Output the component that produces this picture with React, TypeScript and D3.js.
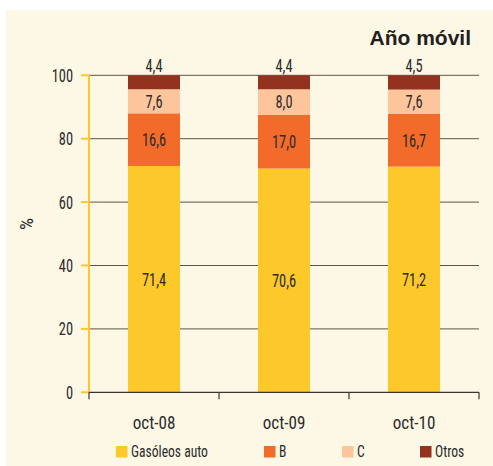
import React from "react";
import * as d3 from "d3";

// datos
const categories = ["oct-08", "oct-09", "oct-10"];
const gasoleos = [71.4, 70.6, 71.2];
const serieB = [16.6, 17.0, 16.7];
const serieC = [7.6, 8.0, 7.6];
const otros = [4.4, 4.4, 4.5];
const seriesNames = ["Gasóleos auto", "B", "C", "Otros"];
const yTicks = [0, 20, 40, 60, 80, 100];

const colors = ["#FDC82A", "#F26B2B", "#FCC59B", "#93321E"];
const font = "'Liberation Sans Narrow', 'Roboto Condensed', 'DejaVu Sans Condensed', sans-serif";
const textColor = "#2b2b2b";

const W = 493;
const H = 466;
const left = 89;
const right = 479;
const top = 75.3;
const bottom = 392.3;

function App() {
  const rows = categories.map((cat, i) => ({
    cat,
    g: gasoleos[i],
    b: serieB[i],
    c: serieC[i],
    o: otros[i],
  }));
  const keys = ["g", "b", "c", "o"];
  const stacked = d3.stack<any>().keys(keys)(rows);

  const x = d3
    .scaleBand()
    .domain(categories)
    .range([left, right])
    .paddingInner(0.6)
    .paddingOuter(0.3);
  const y = d3.scaleLinear().domain([0, 100]).range([bottom, top]);
  const bw = x.bandwidth();
  const step = x.step();
  const fmt = (v: number) => v.toFixed(1).replace(".", ",");

  // separaciones del eje x entre categorías
  const xTickPos = d3.range(categories.length + 1).map((i) => left + i * step);

  const legendX = [116, 264, 342, 420];

  return (
    <svg
      width={W}
      height={H}
      style={{ position: "absolute", left: 0, top: 0, fontFamily: font }}
    >
      <rect x={0} y={0} width={W} height={H} fill="#fff" />
      <rect x={6} y={10} width={W - 6} height={H - 10} fill="#FDF7E6" />

      <text
        x={471}
        y={45}
        textAnchor="end"
        fontFamily="'Liberation Sans', Arial, sans-serif"
        fontWeight="bold"
        fontSize={21}
        fill="#231f20"
      >
        Año móvil
      </text>

      {/* rejilla */}
      {yTicks
        .filter((t) => t > 0)
        .map((t) => (
          <line key={t} x1={left} x2={right} y1={y(t)} y2={y(t)} stroke="#5e5648" strokeWidth={1} />
        ))}

      {/* barras apiladas */}
      {stacked.map((layer, li) =>
        layer.map((d, i) => (
          <rect
            key={`${li}-${i}`}
            x={x(categories[i])}
            y={y(d[1])}
            width={bw}
            height={y(d[0]) - y(d[1])}
            fill={colors[li]}
          />
        ))
      )}

      {/* etiquetas de valores */}
      {stacked.map((layer, li) =>
        layer.map((d, i) => {
          const cx = (x(categories[i]) as number) + bw / 2;
          const v = d[1] - d[0];
          const cy = li === 3 ? y(d[1]) - 3 : (y(d[0]) + y(d[1])) / 2 + 6.5;
          return (
            <text
              key={`l${li}-${i}`}
              transform={`translate(${cx},${cy}) scale(0.8,1)`}
              textAnchor="middle"
              fontSize={18}
              fill={textColor}
            >
              {fmt(v)}
            </text>
          );
        })
      )}

      {/* eje y amarillo */}
      <line x1={left} x2={left} y1={top} y2={bottom} stroke="#FDC82A" strokeWidth={2} />
      {yTicks.map((t) => (
        <g key={`t${t}`}>
          <line x1={81} x2={left} y1={y(t)} y2={y(t)} stroke="#FDC82A" strokeWidth={2} />
          <text
            transform={`translate(73,${y(t) + 6.5}) scale(0.8,1)`}
            textAnchor="end"
            fontSize={18}
            fill={textColor}
          >
            {t}
          </text>
        </g>
      ))}

      <text
        transform={`translate(33,224) rotate(-90)`}
        textAnchor="middle"
        fontSize={19}
        fill={textColor}
      >
        %
      </text>

      {/* eje x */}
      <line x1={left} x2={right} y1={bottom} y2={bottom} stroke="#3a3530" strokeWidth={1.2} />
      {xTickPos.map((p, i) => (
        <line key={`xt${i}`} x1={p} x2={p} y1={bottom} y2={bottom + 7} stroke="#3a3530" strokeWidth={1.2} />
      ))}
      {categories.map((c) => (
        <text
          key={c}
          transform={`translate(${(x(c) as number) + bw / 2},${428.5}) scale(0.95,1)`}
          textAnchor="middle"
          fontSize={18}
          fill={textColor}
        >
          {c}
        </text>
      ))}

      {/* leyenda */}
      {seriesNames.map((n, i) => (
        <g key={n}>
          <rect x={legendX[i]} y={446} width={11.5} height={11.5} fill={colors[i]} />
          <text
            transform={`translate(${legendX[i] + 15},${457}) scale(0.8,1)`}
            fontSize={17}
            fill={textColor}
          >
            {n}
          </text>
        </g>
      ))}
    </svg>
  );
}

export default App;
